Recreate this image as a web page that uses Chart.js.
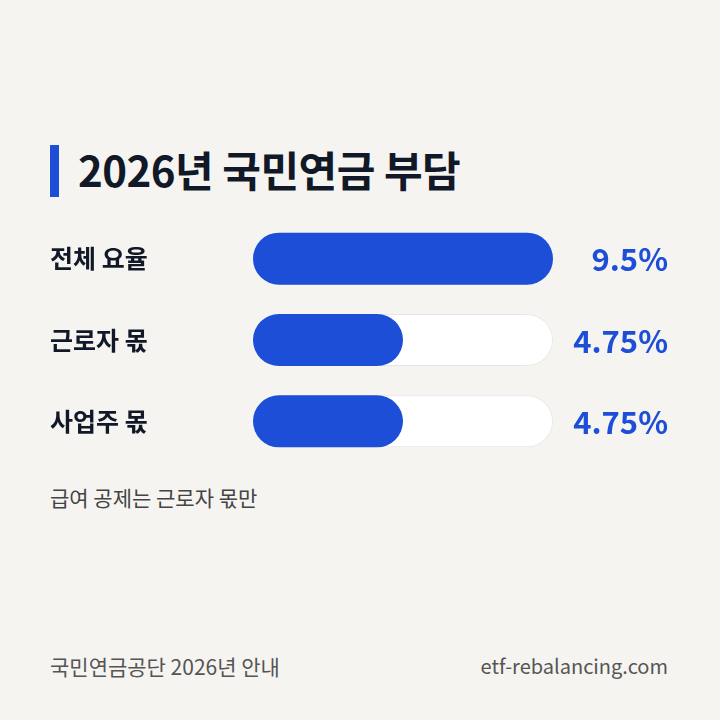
<!DOCTYPE html>
<html><head><meta charset="utf-8">
<script src="https://cdn.jsdelivr.net/npm/chart.js@4"></script>
<style>
body{margin:0;background:#f5f4f0;font-family:"Noto Sans CJK KR","Noto Sans",sans-serif;}
#wrap{position:relative;width:720px;height:720px;}
.t{position:absolute;white-space:nowrap;}
#bar{position:absolute;left:50px;top:145px;width:9px;height:52px;background:#1d4ed8;}
#title{left:78px;top:141px;font-size:42px;font-weight:700;color:#111827;line-height:56px;letter-spacing:-0.5px;}
#note{left:50px;top:482px;font-size:21px;color:#444;}
#src{left:50px;top:651px;font-size:21px;color:#555;}
#site{right:52px;top:651px;font-size:20px;color:#555;}
#c{position:absolute;left:0;top:203px;}
</style></head><body>
<div id="wrap">
<div id="bar"></div>
<div class="t" id="title">2026년 국민연금 부담</div>
<canvas id="c" width="720" height="274"></canvas>
<div class="t" id="note">급여 공제는 근로자 몫만</div>
<div class="t" id="src">국민연금공단 2026년 안내</div>
<div class="t" id="site">etf-rebalancing.com</div>
</div>
<script>
const categories = ['전체 요율', '근로자 몫', '사업주 몫'];
const rates = [9.5, 4.75, 4.75];
const labels = ['9.5%', '4.75%', '4.75%'];
const track = [9.5, 9.5, 9.5];

const valueLabels = {
  id: 'valueLabels',
  afterDatasetsDraw(chart) {
    const ctx = chart.ctx, y = chart.scales.y;
    ctx.save();
    ctx.font = '700 31px "Noto Sans CJK KR", sans-serif';
    ctx.fillStyle = '#1d4ed8';
    ctx.textAlign = 'right';
    ctx.textBaseline = 'middle';
    labels.forEach((l, i) => ctx.fillText(l, 668, y.getPixelForValue(i) + 1));
    ctx.restore();
  }
};

new Chart(document.getElementById('c'), {
  type: 'bar',
  data: {
    labels: categories,
    datasets: [
      { data: rates, backgroundColor: '#1d4ed8', borderWidth: 0, borderRadius: 26, borderSkipped: false, order: 0 },
      { data: track, backgroundColor: '#ffffff', borderColor: '#e6e6e3', borderWidth: 1, borderRadius: 26, borderSkipped: false, order: 1 }
    ]
  },
  options: {
    indexAxis: 'y',
    responsive: false,
    animation: false,
    grouped: false,
    barPercentage: 0.64,
    categoryPercentage: 1,
    layout: { padding: { left: 50, right: 167, top: 0, bottom: 0 } },
    plugins: { legend: { display: false }, tooltip: { enabled: false } },
    scales: {
      x: { min: 0, max: 9.5, display: false },
      y: {
        grid: { display: false }, border: { display: false },
        afterFit(s) { s.width = 203; },
        ticks: { crossAlign: 'far', padding: 0, color: '#111827', font: { size: 25, weight: '700', family: '"Noto Sans CJK KR", sans-serif' } }
      }
    }
  },
  plugins: [valueLabels]
});
</script>
</body></html>
